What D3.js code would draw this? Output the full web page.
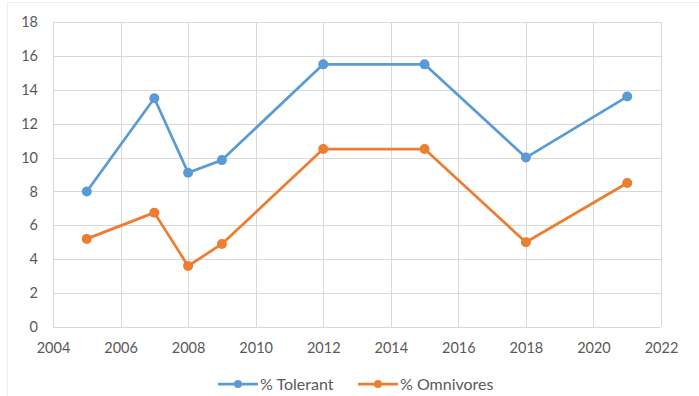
<!DOCTYPE html>
<html>
<head>
<meta charset="utf-8">
<script src="https://cdn.jsdelivr.net/npm/d3@7"></script>
<style>
  html, body { margin: 0; padding: 0; background: #fff; }
  svg { display: block; font-family: Lato, "Open Sans", sans-serif; }
</style>
</head>
<body>
<svg id="chart" width="699" height="396"></svg>
<script>
const years = [2005, 2007, 2008, 2009, 2012, 2015, 2018, 2021];
const tolerant = [8.0, 13.5, 9.1, 9.85, 15.5, 15.5, 10.0, 13.6];
const omnivores = [5.2, 6.75, 3.6, 4.9, 10.5, 10.5, 5.0, 8.5];
const xTicks = [2004, 2006, 2008, 2010, 2012, 2014, 2016, 2018, 2020, 2022];
const yTicks = [0, 2, 4, 6, 8, 10, 12, 14, 16, 18];
const seriesNames = ["% Tolerant", "% Omnivores"];
const colors = ["#5B9BD5", "#ED7D31"];

const svg = d3.select("#chart");
const W = 699, H = 396;
const m = { left: 53, right: 38, top: 22, bottom: 69 };

// faint outer frame
svg.append("rect").attr("x", 7.5).attr("y", 2.5).attr("width", W).attr("height", H)
  .attr("fill", "none").attr("stroke", "#ececec");

const x = d3.scaleLinear().domain([2004, 2022]).range([m.left, W - m.right]);
const y = d3.scaleLinear().domain([0, 18]).range([H - m.bottom, m.top]);

// gridlines
const g = svg.append("g");
g.selectAll("line.h").data(yTicks).join("line")
  .attr("x1", x(2004)).attr("x2", x(2022))
  .attr("y1", d => Math.round(y(d)) + 0.5).attr("y2", d => Math.round(y(d)) + 0.5)
  .attr("stroke", "#d9d9d9").attr("stroke-width", 1);
g.selectAll("line.v").data(xTicks).join("line")
  .attr("y1", y(0)).attr("y2", y(18))
  .attr("x1", d => Math.round(x(d)) + 0.5).attr("x2", d => Math.round(x(d)) + 0.5)
  .attr("stroke", "#d9d9d9").attr("stroke-width", 1);

// axes
const xAxis = d3.axisBottom(x).tickValues(xTicks).tickFormat(d3.format("d")).tickSize(0).tickPadding(16);
const yAxis = d3.axisLeft(y).tickValues(yTicks).tickSize(0).tickPadding(15);
const gx = svg.append("g").attr("transform", `translate(0,${y(0)})`).call(xAxis);
const gy = svg.append("g").attr("transform", `translate(${x(2004)},0)`).call(yAxis);
[gx, gy].forEach(a => {
  a.select(".domain").remove();
  a.selectAll("text").attr("fill", "#595959").style("font-size", "14.5px").style("font-family", "Lato, 'Open Sans', sans-serif");
});

// lines
const line = d3.line().x(d => x(d[0])).y(d => y(d[1]));
[tolerant, omnivores].forEach((vals, i) => {
  const pts = years.map((yr, j) => [yr, vals[j]]);
  svg.append("path").datum(pts).attr("d", line)
    .attr("fill", "none").attr("stroke", colors[i]).attr("stroke-width", 2.75)
    .attr("stroke-linejoin", "round");
  svg.append("g").selectAll("circle").data(pts).join("circle")
    .attr("cx", d => x(d[0])).attr("cy", d => y(d[1])).attr("r", 5)
    .attr("fill", colors[i]);
});

// legend
const legendX = [218, 358];
const legendY = 384;
seriesNames.forEach((name, i) => {
  const lg = svg.append("g").attr("transform", `translate(${legendX[i]},${legendY})`);
  lg.append("line").attr("x1", 0).attr("x2", 40).attr("y1", 0).attr("y2", 0)
    .attr("stroke", colors[i]).attr("stroke-width", 2.75);
  lg.append("circle").attr("cx", 20).attr("cy", 0).attr("r", 4).attr("fill", colors[i]);
  lg.append("text").attr("x", 42).attr("y", 0).attr("dy", "0.35em")
    .attr("fill", "#595959").style("font-size", "16px").text(name);
});
</script>
</body>
</html>
